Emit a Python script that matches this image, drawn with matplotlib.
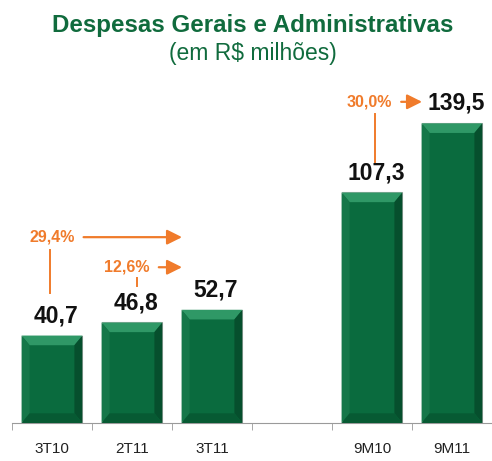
import matplotlib.pyplot as plt
from matplotlib.patches import Polygon

plt.rcParams['font.family'] = ['Liberation Sans', 'DejaVu Sans']

categories = ["3T10", "2T11", "3T11", "", "9M10", "9M11"]
values = [40.7, 46.8, 52.7, None, 107.3, 139.5]
value_labels = ["40,7", "46,8", "52,7", "", "107,3", "139,5"]

green = "#0a6b3e"
light = "#2f9866"
dark = "#064f2d"
orange = "#f07b2b"
title_green = "#106b3d"

fig = plt.figure(figsize=(4.92, 4.61), dpi=100)
ax = fig.add_axes([12 / 492, 38 / 461, 480 / 492, 333 / 461])
ax.set_xlim(-0.5, 5.5)
ax.set_ylim(0, 155)

w = 0.76
bx = 0.1    # bevel width (x data)
by = 4.5    # bevel height (y data)
for i, v in enumerate(values):
    if v is None:
        continue
    x0, x1 = i - w / 2, i + w / 2
    ax.add_patch(plt.Rectangle((x0, 0), w, v, facecolor=green,
                               edgecolor="#b5b5b5", linewidth=0.8, zorder=2))
    # bevel pieces
    ax.add_patch(Polygon([(x0, v), (x1, v), (x1 - bx, v - by), (x0 + bx, v - by)],
                         closed=True, facecolor=light, edgecolor="none", zorder=3))
    ax.add_patch(Polygon([(x0, 0), (x0 + bx, by), (x0 + bx, v - by), (x0, v)],
                         closed=True, facecolor="#157749", edgecolor="none", zorder=3))
    ax.add_patch(Polygon([(x1, 0), (x1 - bx, by), (x1 - bx, v - by), (x1, v)],
                         closed=True, facecolor=dark, edgecolor="none", zorder=3))
    ax.add_patch(Polygon([(x0, 0), (x1, 0), (x1 - bx, by), (x0 + bx, by)],
                         closed=True, facecolor="#075a33", edgecolor="none", zorder=3))
    ax.annotate(value_labels[i], (i + 0.05, v), xytext=(0, 6), textcoords="offset points",
                ha="center", va="bottom", fontsize=16.5, fontweight="bold", color="#111111")

for s in ["top", "right", "left"]:
    ax.spines[s].set_visible(False)
ax.spines["bottom"].set_color("#9a9a9a")
ax.set_yticks([])
ax.set_xticks(range(len(categories)))
ax.set_xticklabels(categories, fontsize=11, color="#222222")
ax.tick_params(axis="x", which="major", length=0, pad=14)
ax.set_xticks([i - 0.5 for i in range(len(categories) + 1)], minor=True)
ax.tick_params(axis="x", which="minor", length=5, color="#9a9a9a", direction="out")

# growth annotations
growth = [("29,4%", 0.0, 86.5, 1.66, -0.03, 80.5, 60.5),
          ("12,6%", 0.94, 72.5, 1.66, 1.06, 67.5, 64.0),
          ("30,0%", 3.97, 149.5, 4.66, 4.04, 144.0, 121.0)]
for txt, tx, ty, tip, lx, ly0, ly1 in growth:
    ax.text(tx, ty, txt, ha="center", va="center", fontsize=11.5,
            fontweight="bold", color=orange)
    ax.annotate("", xy=(tip, ty), xytext=(tx + 0.36, ty),
                arrowprops=dict(arrowstyle="-|>,head_length=0.9,head_width=0.45",
                                color=orange, lw=1.6))
    ax.plot([lx, lx], [ly0, ly1], color=orange, lw=1.4)

fig.text(0.514, 0.945, "Despesas Gerais e Administrativas", ha="center", va="center",
         fontsize=17.4, fontweight="bold", color=title_green)
fig.text(0.514, 0.884, "(em R$ milhões)", ha="center", va="center",
         fontsize=16.5, color=title_green)

fig.savefig("out.png", dpi=100)
